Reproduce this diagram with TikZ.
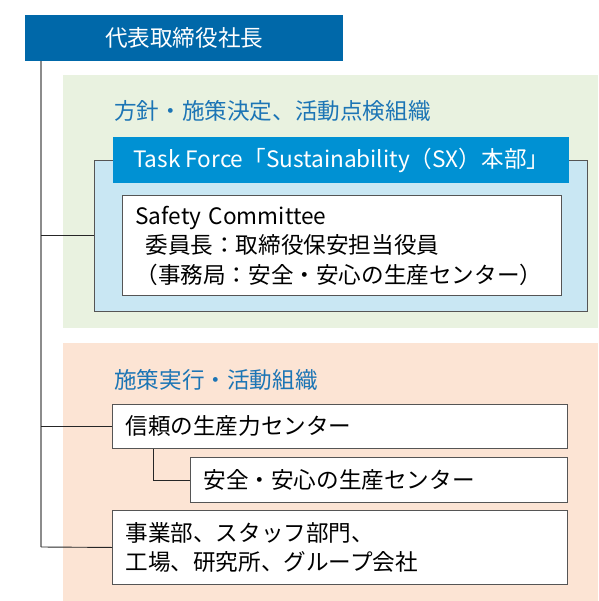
\documentclass[tikz,border=0pt]{standalone}
\usepackage{fontspec}
\setmainfont{Noto Sans CJK JP}
\definecolor{topblue}{HTML}{0068A9}
\definecolor{hdrblue}{HTML}{0091D3}
\definecolor{lightblue}{HTML}{C9E7F3}
\definecolor{greenbg}{HTML}{E9F2E0}
\definecolor{orangebg}{HTML}{FCE4D4}
\definecolor{titleblue}{HTML}{1C75B5}
\definecolor{linegray}{HTML}{555555}
\begin{document}
\begin{tikzpicture}[x=1pt,y=-1pt,
  every node/.style={font=\fontsize{22.6}{29.5}\selectfont, inner sep=0pt},
  topbox/.style={fill=topblue, text=white, anchor=north west, minimum width=318, minimum height=46},
  hdrbox/.style={fill=hdrblue, text=white, anchor=north west, minimum width=456, minimum height=46},
  outerbox/.style={fill=lightblue, draw=linegray, line width=0.9pt, anchor=north west, minimum width=493, minimum height=151},
  wbox/.style={fill=white, draw=linegray, line width=0.9pt, anchor=north west, align=left, inner xsep=13},
  grouptitle/.style={text=titleblue, anchor=west},
  conn/.style={draw=black!85, line width=0.9pt},
  trunk/.style={draw=black!45, line width=1.2pt}
]
\useasboundingbox (0,0) rectangle (598,601);
% background panels
\fill[greenbg] (63,75) rectangle (598,328);
\fill[orangebg] (63,343) rectangle (598,601);

\node[topbox] (ceo) at (25,15) {代表取締役社長};
\node[grouptitle] (t1) at (114,111) {方針・施策決定、活動点検組織};
\node[outerbox] (outer) at (94,160) {};
\node[hdrbox] (tf) at (113,137) {Task Force「Sustainability（SX）本部」};
\node[wbox, text width=439-26, minimum height=100] (sc) at (122,195)
  {Safety Committee\\\hspace*{10pt}委員長：取締役保安担当役員\\（事務局：安全・安心の生産センター）};

\node[grouptitle] (t2) at (114,380) {施策実行・活動組織};
\node[wbox, text width=455-26, minimum height=44] (rel) at (112,404) {信頼の生産力センター};
\node[wbox, text width=377-26, minimum height=45] (safe) at (190,457) {安全・安心の生産センター};
\node[wbox, text width=455-26, minimum height=74] (biz) at (112,510)
  {事業部、スタッフ部門、\\工場、研究所、グループ会社};

\coordinate (trunkend) at (41,547);
\draw[trunk] (ceo.south -| trunkend) -- (trunkend);
\draw[conn] (outer.west -| trunkend) -- (outer.west);
\draw[conn] (rel.west -| trunkend) -- (rel.west);
\draw[conn] (trunkend) -- (biz.west);
\coordinate (sub) at (153,0);
\draw[conn] (rel.south -| sub) |- (safe.west);
\end{tikzpicture}
\end{document}
